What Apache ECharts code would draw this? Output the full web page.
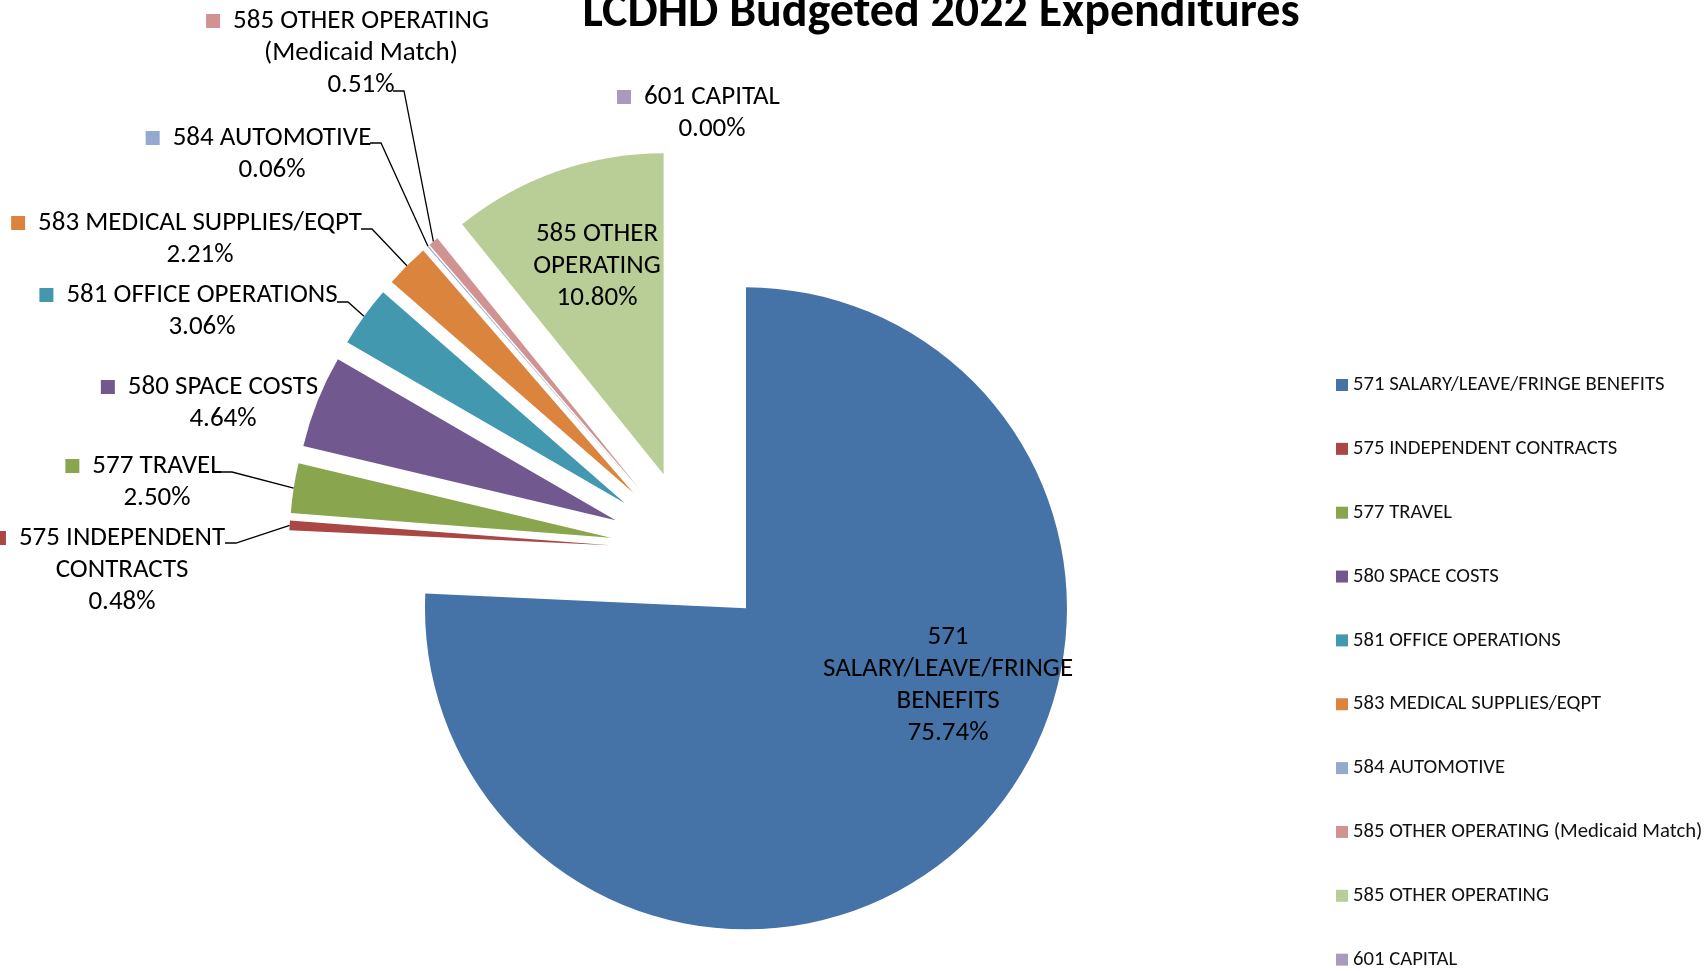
<!DOCTYPE html>
<html>
<head>
<meta charset="utf-8">
<script src="https://cdn.jsdelivr.net/npm/echarts@6/dist/echarts.min.js"></script>
<style>
  html, body { margin: 0; padding: 0; background: #fff; }
  #chart { width: 1705px; height: 971px; }
</style>
</head>
<body>
<div id="chart"></div>
<script>
// Budget lines and their share of the 2022 total (percent)
const categories = [
  '571 SALARY/LEAVE/FRINGE BENEFITS',
  '575 INDEPENDENT CONTRACTS',
  '577 TRAVEL',
  '580 SPACE COSTS',
  '581 OFFICE OPERATIONS',
  '583 MEDICAL SUPPLIES/EQPT',
  '584 AUTOMOTIVE',
  '585 OTHER OPERATING (Medicaid Match)',
  '585 OTHER OPERATING',
  '601 CAPITAL'
];
const shares = [75.74, 0.48, 2.50, 4.64, 3.06, 2.21, 0.06, 0.51, 10.80, 0.00];

// How each category name wraps inside its data label
const labelNameLines = [
  ['571', 'SALARY/LEAVE/FRINGE', 'BENEFITS'],
  ['575 INDEPENDENT', 'CONTRACTS'],
  ['577 TRAVEL'],
  ['580 SPACE COSTS'],
  ['581 OFFICE OPERATIONS'],
  ['583 MEDICAL SUPPLIES/EQPT'],
  ['584 AUTOMOTIVE'],
  ['585 OTHER OPERATING', '(Medicaid Match)'],
  ['585 OTHER', 'OPERATING'],
  ['601 CAPITAL']
];

const palette = ['#4572A7', '#AA4643', '#89A54E', '#71588F', '#4198AF',
                 '#DB843D', '#93A9CF', '#D19392', '#B9CD96', '#A99BBD'];

// Pie geometry (px)
const PIE_CENTER = [690.4, 550.1];
const PIE_RADIUS = 321;
const EXPLODE = 80.5;

// Label block centres (px); `tie` is where the leader line meets the text
const labelSpots = [
  { x: 948, y: 685, inside: true },
  { x: 122, y: 570, tie: [103, -27] },
  { x: 157, y: 482, tie: [64, -10] },
  { x: 223, y: 403 },
  { x: 202, y: 311, tie: [135, -9] },
  { x: 200, y: 239, tie: [161, -10] },
  { x: 272, y: 154, tie: [98, -11] },
  { x: 361, y: 53, tie: [32, 38] },
  { x: 597, y: 266, inside: true },
  { x: 712, y: 113 }
];

const FONT = 'Carlito, Lato, sans-serif';

const rich = { gap: { width: 13 }, pad: { width: 27 } };
palette.forEach((c, i) => {
  rich['k' + i] = { width: 14, height: 14, backgroundColor: c };
});

const chart = echarts.init(document.getElementById('chart'), null, { renderer: 'canvas' });

chart.setOption({
  animation: false,
  backgroundColor: '#fff',
  title: {
    text: 'LCDHD Budgeted 2022 Expenditures',
    left: 941,
    top: -10,
    textAlign: 'center',
    padding: 0,
    textStyle: { fontFamily: FONT, fontWeight: 'bold', fontSize: 48, lineHeight: 48, color: '#000' }
  },
  legend: {
    orient: 'vertical',
    left: 1336,
    top: 374,
    height: 620,
    padding: 0,
    itemWidth: 12,
    itemHeight: 12,
    itemGap: 41.85,
    icon: 'rect',
    selectedMode: false,
    textStyle: { fontFamily: FONT, fontSize: 20.7, lineHeight: 22, color: '#111' },
    data: categories
  },
  series: [
    {
      // exploded slices
      type: 'pie',
      center: PIE_CENTER,
      radius: PIE_RADIUS,
      startAngle: 90,
      clockwise: true,
      selectedMode: 'multiple',
      selectedOffset: EXPLODE,
      emphasis: { disabled: true },
      label: { show: false },
      labelLine: { show: false },
      data: categories.map((name, i) => ({
        name,
        value: shares[i],
        selected: true,
        itemStyle: { color: palette[i] }
      }))
    },
    {
      // data labels with leader lines, laid over the exploded slices
      type: 'pie',
      center: PIE_CENTER,
      radius: PIE_RADIUS,
      startAngle: 90,
      clockwise: true,
      silent: true,
      avoidLabelOverlap: false,
      emphasis: { disabled: true },
      itemStyle: { color: 'rgba(0,0,0,0)' },
      data: categories.map((name, i) => ({
        name,
        value: shares[i],
        labelLine: { show: !!labelSpots[i].tie }
      })),
      label: {
        show: true,
        fontFamily: FONT,
        fontSize: 27,
        lineHeight: 32,
        color: '#000',
        align: 'center',
        rich,
        formatter: p => {
          const i = p.dataIndex;
          const lines = labelNameLines[i].slice();
          if (!labelSpots[i].inside) {
            lines[0] = '{k' + i + '|}{gap|}' + lines[0] + '{pad|}';
          }
          lines.push(p.percent.toFixed(2) + '%');
          return lines.join('\n');
        }
      },
      labelLine: {
        length: 10,
        length2: 10,
        lineStyle: { color: '#000', width: 1.3 }
      },
      labelLayout: p => {
        const s = labelSpots[p.dataIndex];
        const out = { x: s.x, y: s.y, align: 'center', verticalAlign: 'middle' };
        if (s.tie && p.labelLinePoints) {
          // start the leader on the outer rim of the pulled-out slice
          const p0 = p.labelLinePoints[0];
          const dx = p0[0] - PIE_CENTER[0];
          const dy = p0[1] - PIE_CENTER[1];
          const len = Math.sqrt(dx * dx + dy * dy) || 1;
          const reach = PIE_RADIUS + EXPLODE;
          const start = [PIE_CENTER[0] + dx / len * reach, PIE_CENTER[1] + dy / len * reach];
          const ax = s.x + s.tie[0];
          const ay = s.y + s.tie[1];
          out.labelLinePoints = [start, [ax + 11, ay], [ax, ay]];
        }
        return out;
      }
    }
  ]
});
</script>
</body>
</html>
